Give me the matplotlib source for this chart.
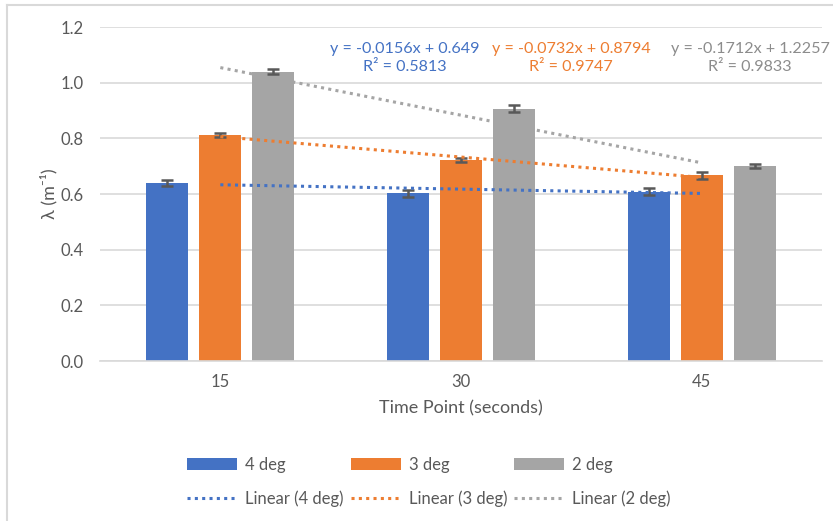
import matplotlib
matplotlib.use("Agg")
import matplotlib.pyplot as plt
import numpy as np
from matplotlib.lines import Line2D
from matplotlib.patches import Patch

plt.rcParams['font.family'] = ['Lato', 'DejaVu Sans']

categories = ['15', '30', '45']
series_names = ['4 deg', '3 deg', '2 deg']
vals_4 = [0.640, 0.603, 0.608]
vals_3 = [0.812, 0.722, 0.667]
vals_2 = [1.040, 0.907, 0.700]
err_4 = [0.012, 0.012, 0.013]
err_3 = [0.008, 0.008, 0.012]
err_2 = [0.008, 0.012, 0.008]
slopes = [-0.0156, -0.0732, -0.1712]
intercepts = [0.649, 0.8794, 1.2257]
eq_texts = ['y = -0.0156x + 0.649\nR² = 0.5813',
            'y = -0.0732x + 0.8794\nR² = 0.9747',
            'y = -0.1712x + 1.2257\nR² = 0.9833']
colors = ['#4472C4', '#ED7D31', '#A5A5A5']
text_colors = ['#4472C4', '#ED7D31', '#8C8C8C']

fig = plt.figure(figsize=(8.33, 5.21), dpi=100)
ax = fig.add_axes([0.12, 0.307, 0.867, 0.641])

x = np.arange(len(categories))
width = 0.175
offsets = [-0.22, 0.0, 0.22]
all_vals = [vals_4, vals_3, vals_2]
all_errs = [err_4, err_3, err_2]
for i in range(3):
    ax.bar(x + offsets[i], all_vals[i], width, color=colors[i], zorder=2)
    ax.errorbar(x + offsets[i], all_vals[i], yerr=all_errs[i], fmt='none',
                ecolor='#595959', elinewidth=1.8, capsize=4, capthick=1.8, zorder=3)

# trendlines (Excel x = 1..n)
xt = np.array([1, 2, 3])
for i in range(3):
    yt = slopes[i] * xt + intercepts[i]
    ax.plot(xt - 1, yt, linestyle=(0, (1, 1.4)), color=colors[i], linewidth=2.2, zorder=4)

eq_pos = [(0.767, 1.09), (1.458, 1.09), (2.2, 1.09)]
for i in range(3):
    ax.text(eq_pos[i][0], eq_pos[i][1], eq_texts[i], color=text_colors[i],
            ha='center', va='center', fontsize=11.6, linespacing=1.4, zorder=5)

ax.set_xlim(-0.5, 2.5)
ax.set_ylim(0, 1.2)
ax.set_yticks(np.arange(0, 1.21, 0.2))
ax.set_yticklabels([f'{v:.1f}' for v in np.arange(0, 1.21, 0.2)])
ax.set_xticks(x)
ax.set_xticklabels(categories)
ax.grid(axis='y', color='#D9D9D9', linewidth=1.2, zorder=0)
ax.set_axisbelow(True)
for s in ['left', 'right', 'top']:
    ax.spines[s].set_visible(False)
ax.spines['bottom'].set_color('#D9D9D9')
ax.spines['bottom'].set_linewidth(1.2)
ax.tick_params(axis='both', length=0, colors='#595959', labelsize=12)
ax.tick_params(axis='y', pad=12)
ax.tick_params(axis='x', pad=9)
ax.set_xlabel('Time Point (seconds)', fontsize=13, color='#595959', labelpad=8)
ax.set_ylabel('λ (m⁻¹)', fontsize=13, color='#595959', labelpad=2)

handles = []
labels = []
for i in range(3):
    handles.append(Patch(facecolor=colors[i]))
    labels.append(series_names[i])
    handles.append(Line2D([0], [0], linestyle=(0, (1, 1.4)), color=colors[i], linewidth=2.2))
    labels.append(f'Linear ({series_names[i]})')
fig.legend(handles, labels, ncol=3, loc='center', bbox_to_anchor=(0.515, 0.075),
           frameon=False, fontsize=12, handlelength=3.0, handleheight=0.8,
           columnspacing=0.4, labelspacing=1.05, handletextpad=0.5,
           labelcolor='#595959')

# chart border
fig.add_artist(Line2D([0.0084, 0.0084], [0.0, 0.99], transform=fig.transFigure,
                      color='#D9D9D9', linewidth=1.5))
fig.add_artist(Line2D([0.0084, 1.0], [0.99, 0.99], transform=fig.transFigure,
                      color='#D9D9D9', linewidth=1.5))

fig.savefig('out.png', dpi=100, facecolor='white')
